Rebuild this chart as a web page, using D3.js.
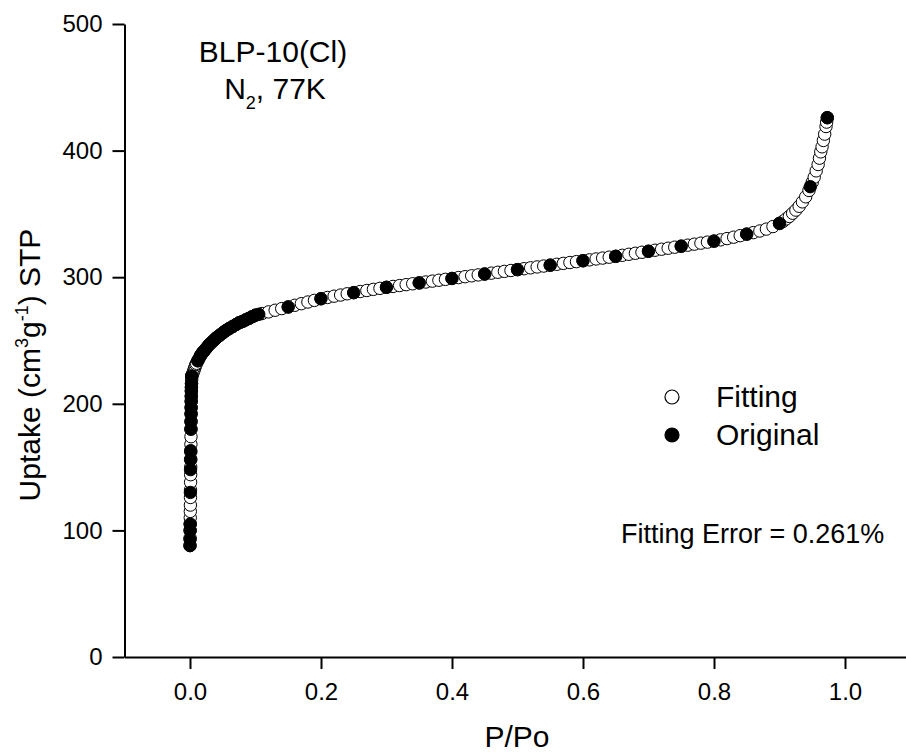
<!DOCTYPE html>
<meta charset="utf-8">
<script src="https://d3js.org/d3.v7.js"></script>
<style>
  body { margin: 0; background: #fff; }
  text { font-family: Arial, "Liberation Sans", sans-serif; fill: #000; }
</style>
<svg id="chart" width="906" height="753"></svg>
<script>

// Fitting series (open circles)
const fitP = [
  0.0000, 0.0001, 0.0002, 0.0003, 0.0004, 0.0005, 0.0006, 0.0007, 0.0008, 0.0009,
  0.0010, 0.0011, 0.0012, 0.0013, 0.0014, 0.0015, 0.0016, 0.0017, 0.0018, 0.0019,
  0.0020, 0.0021, 0.0022, 0.0023, 0.0024, 0.0025, 0.0026, 0.0027,
  0.004, 0.005, 0.006, 0.007, 0.008, 0.009, 0.010, 0.012, 0.014, 0.016, 0.018,
  0.020, 0.025, 0.030, 0.035, 0.040, 0.045, 0.050, 0.055, 0.060, 0.065, 0.070,
  0.075, 0.080, 0.085, 0.090, 0.095, 0.100,
  0.11, 0.12, 0.13, 0.14, 0.15, 0.16, 0.17, 0.18, 0.19, 0.20,
  0.21, 0.22, 0.23, 0.24, 0.25, 0.26, 0.27, 0.28, 0.29, 0.30,
  0.31, 0.32, 0.33, 0.34, 0.35, 0.36, 0.37, 0.38, 0.39, 0.40,
  0.41, 0.42, 0.43, 0.44, 0.45, 0.46, 0.47, 0.48, 0.49, 0.50,
  0.51, 0.52, 0.53, 0.54, 0.55, 0.56, 0.57, 0.58, 0.59, 0.60,
  0.61, 0.62, 0.63, 0.64, 0.65, 0.66, 0.67, 0.68, 0.69, 0.70,
  0.71, 0.72, 0.73, 0.74, 0.75, 0.76, 0.77, 0.78, 0.79, 0.80,
  0.81, 0.82, 0.83, 0.84, 0.85, 0.86, 0.87, 0.88, 0.89, 0.90,
  0.905, 0.910, 0.915, 0.920, 0.925, 0.930, 0.935, 0.940, 0.945, 0.950,
  0.953, 0.956, 0.959, 0.961, 0.963, 0.965, 0.967, 0.969, 0.971, 0.972, 0.973
];
const fitV = [
  88, 94, 100, 105, 110, 115, 120, 126, 132, 138,
  144, 150, 156, 162, 168, 174, 180, 186, 192, 197,
  202, 206, 210, 213, 216, 218.5, 220.5, 222,
  223.5, 225, 226.5, 228, 229.5, 231, 232, 234, 236, 238, 239.5,
  241, 244, 247, 249.5, 252, 254, 256, 258, 259.5, 261, 262.5,
  264, 265, 266.3, 267.5, 268.8, 270,
  271.3, 272.6, 273.9, 275.2, 276.5, 277.8, 279.1, 280.4, 281.7, 283,
  284, 285, 285.9, 286.9, 287.8, 288.7, 289.5, 290.4, 291.2, 292,
  292.7, 293.4, 294.1, 294.8, 295.5, 296.2, 296.9, 297.6, 298.3, 299,
  299.7, 300.4, 301.1, 301.8, 302.5, 303.2, 303.9, 304.6, 305.3, 306,
  306.7, 307.4, 308.1, 308.8, 309.5, 310.2, 310.9, 311.6, 312.3, 313,
  313.7, 314.4, 315.1, 315.8, 316.5, 317.3, 318.1, 318.9, 319.7, 320.5,
  321.3, 322.1, 322.9, 323.7, 324.5, 325.3, 326.1, 326.9, 327.7, 328.5,
  329.5, 330.5, 331.6, 332.8, 334, 335.2, 336.5, 338, 340, 342.5,
  344, 346, 348, 350.5, 353, 356, 359.5, 363.5, 368.5, 375,
  379, 384, 389, 394, 399, 403, 408, 413, 419, 422.5, 426
];

// Original series (filled circles)
const origP = [
  0.0000, 0.0001, 0.0002, 0.0003, 0.0006, 0.0008, 0.0009, 0.0010, 0.0013, 0.0014,
  0.0015, 0.0016, 0.0017, 0.0018, 0.0019, 0.0020, 0.0022, 0.0027,
  0.012, 0.016, 0.020, 0.022, 0.025, 0.028, 0.031, 0.034, 0.037, 0.040, 0.044,
  0.048, 0.052, 0.056, 0.060, 0.065, 0.070, 0.075, 0.080, 0.085, 0.090, 0.095,
  0.100, 0.105,
  0.15, 0.20, 0.25, 0.30, 0.35, 0.40, 0.45, 0.50, 0.55, 0.60, 0.65, 0.70,
  0.75, 0.80, 0.85, 0.90, 0.947, 0.973
];
const origV = [
  88, 93, 100, 105, 130, 148, 156, 163, 180, 186,
  192, 197, 202, 206, 210, 213, 216, 222,
  234, 238, 241, 242, 244, 246, 247.6, 249, 250.5, 252, 253.6,
  255.2, 256.8, 258.2, 259.5, 261, 262.5, 264, 265, 266.3, 267.5, 268.8,
  270, 270.7,
  276.5, 283, 287.8, 292, 295.5, 299, 302.5, 306, 309.5, 313, 316.5, 320.5,
  324.5, 328.5, 334, 342.5, 371.5, 426
];

// Axis ticks
const xMajor = [0, 0.2, 0.4, 0.6, 0.8, 1.0];
const xMinor = [-0.1, 0.1, 0.3, 0.5, 0.7, 0.9, 1.1];
const yMajor = [0, 100, 200, 300, 400, 500];
const yMinor = [50, 150, 250, 350, 450];

const fitting = fitP.map((p, i) => ({p: p, v: fitV[i]}));
const original = origP.map((p, i) => ({p: p, v: origV[i]}));

const svg = d3.select("svg");

// Scales
const x = d3.scaleLinear().domain([-0.1, 1.1]).range([124.5, 910.5]);
const y = d3.scaleLinear().domain([0, 500]).range([657, 24]);

// X axis
const gx = svg.append("g").attr("transform", "translate(0,657)");
gx.call(d3.axisBottom(x).tickValues(xMinor).tickSize(6).tickFormat("").tickSizeOuter(0));
gx.call(d3.axisBottom(x).tickValues(xMajor).tickSize(12).tickPadding(14)
    .tickFormat(d3.format(".1f")).tickSizeOuter(0));

// Y axis
const gy = svg.append("g").attr("transform", "translate(124.5,0)");
gy.call(d3.axisLeft(y).tickValues(yMinor).tickSize(6).tickFormat("").tickSizeOuter(0));
gy.call(d3.axisLeft(y).tickValues(yMajor).tickSize(12).tickPadding(10)
    .tickFormat(d3.format("d")).tickSizeOuter(0));

svg.selectAll(".domain").attr("stroke", "#000").attr("stroke-width", 2);
svg.selectAll(".tick line").attr("stroke", "#000").attr("stroke-width", 2);
svg.selectAll(".tick text").style("font-size", "24px")
    .style("font-family", "Arial, 'Liberation Sans', sans-serif").attr("fill", "#000");

// Data: fitting first, original on top
svg.append("g")
  .selectAll("circle")
  .data(fitting)
  .join("circle")
    .attr("cx", d => x(d.p))
    .attr("cy", d => y(d.v))
    .attr("r", 6.2)
    .attr("fill", "#fff")
    .attr("stroke", "#000")
    .attr("stroke-width", 1);

svg.append("g")
  .selectAll("circle")
  .data(original)
  .join("circle")
    .attr("cx", d => x(d.p))
    .attr("cy", d => y(d.v))
    .attr("r", 6.2)
    .attr("fill", "#000")
    .attr("stroke", "#000")
    .attr("stroke-width", 1);

// Axis titles
svg.append("text")
    .attr("x", 517)
    .attr("y", 747)
    .attr("text-anchor", "middle")
    .style("font-size", "30px")
    .text("P/Po");

const yt = svg.append("text")
    .attr("transform", "translate(40,365) rotate(-90)")
    .attr("text-anchor", "middle")
    .style("font-size", "30px");
yt.append("tspan").text("Uptake (cm");
yt.append("tspan").attr("dy", -12).style("font-size", "18px").text("3");
yt.append("tspan").attr("dy", 12).text("g");
yt.append("tspan").attr("dy", -12).style("font-size", "18px").text("-1");
yt.append("tspan").attr("dy", 12).text(") STP");

// Title
svg.append("text")
    .attr("x", 273)
    .attr("y", 62)
    .attr("text-anchor", "middle")
    .style("font-size", "30px")
    .text("BLP-10(Cl)");

const t2 = svg.append("text")
    .attr("x", 275)
    .attr("y", 99)
    .attr("text-anchor", "middle")
    .style("font-size", "30px");
t2.append("tspan").text("N");
t2.append("tspan").attr("dy", 10).style("font-size", "18px").text("2");
t2.append("tspan").attr("dy", -10).text(", 77K");

// Legend
const legend = [
  {name: "Fitting", fill: "#fff", cy: 397},
  {name: "Original", fill: "#000", cy: 435}
];
svg.selectAll("legendDots")
  .data(legend)
  .join("circle")
    .attr("cx", 672)
    .attr("cy", d => d.cy)
    .attr("r", 7)
    .attr("fill", d => d.fill)
    .attr("stroke", "#000")
    .attr("stroke-width", 1.2);
svg.selectAll("legendLabels")
  .data(legend)
  .join("text")
    .attr("x", 716)
    .attr("y", d => d.cy + 10)
    .style("font-size", "30px")
    .text(d => d.name);

// Fitting error note
svg.append("text")
    .attr("x", 621)
    .attr("y", 543)
    .style("font-size", "27px")
    .text("Fitting Error = 0.261%");

</script>
